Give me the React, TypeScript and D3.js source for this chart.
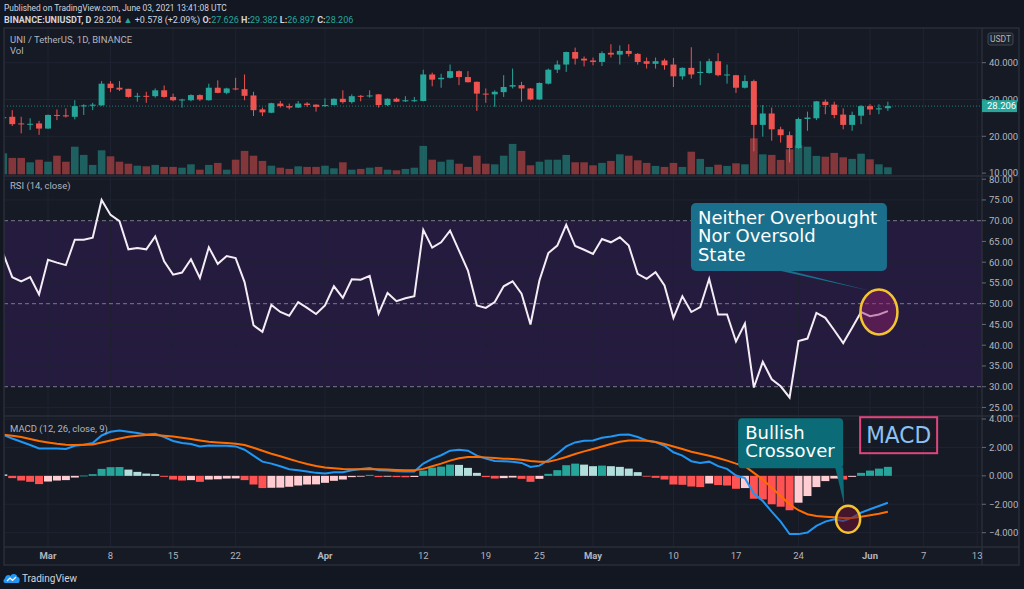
import React from "react";
import * as d3 from "d3";

// UNI / TetherUS, 1D, BINANCE — Feb 24 .. Jun 3 2021
const startDay = "2021-02-24";

const opens = [
  24.9, 25.3, 23.5, 23.2, 23.5, 22.1, 25.8, 25.7, 25.3, 28.2,
  28.3, 28.4, 34.3, 33.2, 32.9, 30.8, 31.0, 30.9, 32.5, 30.7,
  29.9, 29.8, 31.2, 29.8, 33.2, 31.8, 33.0, 32.8, 31.1, 27.3,
  26.4, 28.9, 28.2, 27.8, 28.9, 28.6, 28.2, 28.5, 30.2, 29.3,
  31.0, 30.9, 31.4, 28.5, 30.2, 29.5, 29.6, 29.6, 36.8, 35.5,
  35.9, 37.7, 36.1, 34.8, 31.6, 31.4, 32.0, 33.5, 33.9, 33.0,
  30.0, 34.3, 38.1, 39.5, 42.9, 41.1, 40.6, 40.2, 42.7, 42.2,
  43.2, 42.4, 40.4, 39.7, 40.6, 39.5, 36.3, 38.6, 37.2, 37.2,
  40.4, 36.6, 36.6, 33.2, 35.0, 23.1, 26.2, 21.9, 20.3, 16.8,
  24.7, 24.9, 29.4, 28.6, 25.9, 23.1, 25.6, 28.2, 27.3, 27.626,
];
const highs = [
  25.6, 27.1, 25.3, 24.9, 24.2, 25.9, 27.3, 27.6, 29.8, 28.7,
  29.1, 35.0, 35.0, 35.0, 32.9, 31.8, 32.1, 33.0, 33.8, 31.6,
  30.2, 31.4, 31.4, 34.3, 35.2, 33.2, 35.9, 36.8, 32.1, 27.8,
  29.1, 29.6, 28.9, 29.6, 29.3, 28.7, 30.3, 30.3, 32.5, 31.4,
  31.2, 32.5, 31.5, 30.3, 30.5, 30.9, 30.7, 38.1, 37.3, 37.0,
  39.5, 37.9, 37.7, 34.9, 33.0, 32.5, 36.6, 38.4, 34.8, 33.1,
  34.6, 38.4, 40.6, 43.0, 44.1, 41.7, 41.4, 43.1, 45.0, 44.7,
  45.0, 42.6, 41.4, 41.4, 41.1, 41.3, 38.7, 44.2, 40.4, 41.1,
  42.6, 39.5, 36.7, 36.6, 35.4, 28.5, 27.8, 22.6, 21.3, 25.1,
  26.7, 29.6, 30.0, 29.4, 27.6, 26.7, 28.5, 28.7, 28.7, 29.382,
];
const lows = [
  24.5, 22.8, 20.8, 21.7, 20.4, 22.0, 24.4, 25.1, 24.6, 25.8,
  27.1, 28.3, 32.0, 32.3, 30.5, 29.4, 29.1, 30.5, 30.5, 29.5,
  27.8, 29.5, 29.6, 29.7, 31.7, 31.4, 32.5, 29.8, 25.5, 25.5,
  26.3, 27.8, 27.3, 27.7, 28.0, 26.7, 28.0, 28.4, 28.9, 28.9,
  29.5, 30.5, 27.8, 28.2, 29.3, 29.3, 29.3, 29.5, 33.6, 33.2,
  35.7, 33.9, 34.6, 26.9, 29.1, 28.0, 30.7, 33.0, 29.4, 29.8,
  29.9, 34.1, 37.2, 37.5, 39.5, 39.0, 39.3, 39.1, 41.4, 39.5,
  41.7, 39.5, 38.4, 38.4, 38.1, 33.4, 35.4, 35.7, 33.9, 37.0,
  36.3, 34.3, 31.8, 33.0, 15.9, 19.9, 18.8, 18.3, 12.9, 16.5,
  21.5, 24.4, 26.0, 24.9, 21.9, 21.5, 23.3, 25.8, 26.0, 26.897,
];
const closes = [
  25.2, 23.3, 23.3, 23.4, 22.1, 25.8, 25.6, 25.4, 28.2, 28.4,
  28.6, 34.3, 33.1, 32.7, 30.7, 31.0, 30.8, 32.5, 30.7, 29.8,
  30.0, 31.2, 30.0, 33.2, 31.8, 33.0, 32.8, 31.0, 27.1, 26.5,
  29.0, 28.2, 27.8, 28.9, 28.5, 28.0, 28.5, 30.2, 29.3, 30.9,
  30.8, 31.1, 28.5, 30.2, 29.4, 29.8, 29.8, 36.8, 35.4, 35.9,
  37.7, 36.1, 34.7, 31.6, 31.4, 32.1, 33.4, 33.9, 33.0, 30.0,
  34.5, 38.1, 39.5, 42.9, 41.1, 40.6, 40.2, 42.6, 42.2, 43.2,
  42.4, 40.2, 39.7, 40.4, 39.3, 36.3, 38.6, 36.8, 37.5, 40.4,
  36.6, 36.8, 33.2, 35.0, 23.1, 26.2, 21.9, 20.3, 16.8, 24.7,
  25.1, 29.5, 28.5, 25.8, 23.1, 25.8, 28.2, 27.3, 27.6, 28.206,
];
// volume, millions
const volumes = [
  10.5, 8.2, 8.2, 6.0, 7.3, 6.3, 9.3, 6.3, 13.8, 9.7,
  4.7, 12.0, 9.0, 6.3, 5.3, 4.3, 4.0, 4.7, 3.7, 3.7,
  3.3, 5.0, 2.3, 4.7, 5.7, 2.3, 7.3, 11.7, 9.3, 6.7,
  4.3, 3.3, 2.7, 4.0, 3.7, 3.7, 4.3, 3.0, 6.0, 2.3,
  2.7, 3.3, 3.7, 2.3, 2.0, 2.7, 3.3, 14.2, 7.3, 6.3,
  7.3, 5.3, 3.7, 9.3, 5.3, 5.0, 9.3, 15.2, 11.7, 4.5,
  6.3, 7.3, 7.3, 9.7, 6.0, 6.0, 4.5, 5.7, 6.7, 10.0,
  9.3, 7.0, 5.7, 4.2, 3.7, 5.7, 3.7, 11.3, 7.7, 3.7,
  4.8, 4.2, 5.5, 5.0, 18.0, 10.0, 9.7, 7.2, 12.5, 14.5,
  13.8, 9.2, 8.8, 10.7, 8.5, 7.7, 10.3, 7.5, 5.0, 3.5,
];
const rsiValues = [
  62.0, 56.4, 55.4, 56.4, 52.2, 60.6, 59.9, 59.3, 65.4, 65.4,
  65.9, 75.0, 71.4, 69.9, 63.1, 63.4, 63.1, 66.2, 60.2, 57.0,
  57.5, 60.7, 56.2, 63.6, 59.6, 61.5, 61.0, 55.2, 44.8, 43.2,
  49.7, 48.0, 47.1, 50.4, 49.0, 47.5, 49.6, 54.2, 51.4, 55.9,
  55.8, 56.7, 47.6, 52.6, 50.6, 51.3, 51.8, 67.8, 63.5, 64.8,
  67.6, 62.8, 58.0, 49.6, 49.0, 50.4, 54.2, 55.4, 52.4, 45.0,
  55.6, 62.2, 64.0, 69.0, 63.9, 63.0, 62.0, 65.6, 64.8, 66.0,
  64.0, 57.2, 56.0, 57.6, 54.4, 46.6, 51.8, 48.0, 49.2, 56.0,
  47.4, 47.4, 40.9, 45.2, 29.8, 36.0, 31.8, 30.1, 27.4, 41.0,
  41.6, 47.8, 46.6, 43.6, 40.5, 44.2, 48.0, 47.0, 47.4, 48.2,
];
const macdValues = [
  2.89, 2.63, 2.40, 2.17, 1.93, 1.93, 1.93, 1.89, 2.12, 2.19,
  2.31, 2.84, 3.10, 3.19, 3.10, 3.01, 2.91, 2.96, 2.73, 2.45,
  2.31, 2.24, 2.07, 2.14, 2.12, 2.12, 2.07, 1.84, 1.42, 1.00,
  0.86, 0.68, 0.47, 0.40, 0.30, 0.21, 0.16, 0.26, 0.26, 0.40,
  0.49, 0.56, 0.40, 0.37, 0.33, 0.30, 0.30, 0.86, 1.19, 1.45,
  1.77, 1.84, 1.77, 1.42, 1.22, 1.04, 1.02, 1.00, 0.91, 0.63,
  0.72, 1.10, 1.56, 2.07, 2.35, 2.47, 2.49, 2.68, 2.77, 2.89,
  2.91, 2.73, 2.49, 2.38, 2.12, 1.66, 1.42, 1.03, 0.91, 1.00,
  0.68, 0.49, 0.02, -0.16, -1.24, -1.77, -2.52, -3.22, -4.10, -4.10,
  -3.99, -3.52, -3.22, -3.05, -3.17, -2.94, -2.59, -2.35, -2.12, -1.89,
];
const signalValues = [
  2.89, 2.82, 2.73, 2.59, 2.45, 2.35, 2.26, 2.19, 2.17, 2.19,
  2.21, 2.35, 2.49, 2.63, 2.75, 2.82, 2.87, 2.87, 2.82, 2.77,
  2.68, 2.59, 2.49, 2.40, 2.35, 2.31, 2.26, 2.17, 1.98, 1.77,
  1.56, 1.38, 1.19, 1.00, 0.84, 0.70, 0.58, 0.54, 0.49, 0.47,
  0.47, 0.47, 0.47, 0.44, 0.42, 0.40, 0.40, 0.49, 0.68, 0.86,
  1.07, 1.24, 1.33, 1.33, 1.30, 1.25, 1.21, 1.19, 1.14, 1.05,
  1.00, 1.00, 1.14, 1.33, 1.54, 1.72, 1.89, 2.07, 2.24, 2.40,
  2.49, 2.49, 2.47, 2.38, 2.24, 2.07, 1.89, 1.70, 1.56, 1.42,
  1.26, 1.07, 0.86, 0.68, 0.21, -0.26, -0.84, -1.42, -2.00, -2.42,
  -2.70, -2.82, -2.87, -2.91, -2.96, -2.96, -2.87, -2.77, -2.66, -2.52,
];
const histValues = [
  0.10, -0.16, -0.33, -0.42, -0.58, -0.40, -0.33, -0.30, -0.12, 0.02,
  0.12, 0.49, 0.61, 0.62, 0.44, 0.28, 0.16, 0.12, -0.07, -0.26,
  -0.33, -0.30, -0.42, -0.26, -0.24, -0.19, -0.18, -0.30, -0.61, -0.86,
  -0.84, -0.83, -0.77, -0.68, -0.61, -0.60, -0.49, -0.35, -0.26, -0.09,
  -0.02, 0.07, -0.09, -0.05, -0.09, -0.10, -0.08, 0.37, 0.58, 0.65,
  0.79, 0.77, 0.56, 0.21, -0.09, -0.19, -0.16, -0.12, -0.21, -0.42,
  -0.21, 0.14, 0.40, 0.75, 0.86, 0.79, 0.68, 0.72, 0.68, 0.63,
  0.51, 0.26, -0.02, -0.14, -0.26, -0.61, -0.63, -0.75, -0.79, -0.54,
  -0.65, -0.68, -0.91, -0.86, -1.61, -1.66, -2.00, -2.17, -2.42, -1.89,
  -1.42, -0.79, -0.37, -0.19, -0.26, -0.07, 0.21, 0.37, 0.51, 0.63,
];

const tickDays = [
  "2021-03-01", "2021-03-08", "2021-03-15", "2021-03-22", "2021-04-01",
  "2021-04-12", "2021-04-19", "2021-04-25", "2021-05-01", "2021-05-10",
  "2021-05-17", "2021-05-24", "2021-06-01", "2021-06-07", "2021-06-13",
];
const tickLabels = ["Mar", "8", "15", "22", "Apr", "12", "19", "25", "May", "10", "17", "24", "Jun", "7", "13"];

const priceTicks = [40, 30, 20, 10];
const rsiTicks = [80, 75, 70, 65, 60, 55, 50, 45, 40, 35, 30, 25];
const macdTicks = [4, 2, 0, -2, -4];
const lastPrice = 28.206;

// annotation anchors (date, value)
const rsiNote = { day: "2021-06-02", value: 48, lines: ["Neither Overbought", "Nor Oversold", "State"] };
const crossNote = { day: "2021-05-30", value: -3.05, lines: ["Bullish", "Crossover"] };

const W = 1024;
const H = 589;
const L = 4;
const R = 982;
const FR = 1019;
const TOP = 28;
const PRICE_B = 176;
const RSI_B = 416;
const MACD_B = 547;
const AXIS_B = 565;

const UP = "#26a69a";
const DOWN = "#ef5350";
const TXT = "#b2b5be";
const GRID = "#1f2330";
const BORDER = "#2a2e39";
const FONT = "Roboto, 'Noto Sans', sans-serif";
const NOTE_FONT = "'DejaVu Sans', sans-serif";

const parse = d3.utcParse("%Y-%m-%d");

export default function App() {
  const start = parse(startDay)!;
  const days = opens.map((_, i) => d3.utcDay.offset(start, i));

  const x = d3.scaleUtc()
    .domain([parse("2021-03-01")!, parse("2021-06-01")!])
    .range([48, 870]);
  const yPrice = d3.scaleLinear().domain([20, 40]).range([136.3, 62.7]);
  const yVol = d3.scaleLinear().domain([0, 30]).range([174.3, 114.3]);
  const yRsi = d3.scaleLinear().domain([30, 70]).range([386.7, 220.7]);
  const yMacd = d3.scaleLinear().domain([-4, 4]).range([532.7, 419]);

  const fmt3 = d3.format(".3f");
  const fmt2 = d3.format(".2f");

  const rsiLine = d3.line<number>().x((_, i) => x(days[i])).y(v => yRsi(v));
  const macdLine = d3.line<number>().x((_, i) => x(days[i])).y(v => yMacd(v));

  const histColor = (i: number) => {
    const v = histValues[i];
    const prev = i > 0 ? histValues[i - 1] : v;
    if (v >= 0) return prev < v ? "#26a69a" : "#b2dfdb";
    return prev < v ? "#ffcdd2" : "#ff5252";
  };

  // annotation geometry
  const rx = x(parse(rsiNote.day)!);
  const ry = yRsi(rsiNote.value);
  const cx = x(parse(crossNote.day)!) - 4;
  const cy = yMacd(crossNote.value);

  return (
    <svg width={W} height={H} style={{ position: "absolute", left: 0, top: 0, display: "block" }} fontFamily={FONT}>
      <defs>
        <clipPath id="plot">
          <rect x={L} y={TOP} width={R - L} height={MACD_B - TOP} />
        </clipPath>
      </defs>
      <rect width={W} height={H} fill="#131722" />
      <rect x={L} y={TOP} width={FR - L} height={AXIS_B - TOP} fill="#161a25" />

      {/* header */}
      <text x={4} y={11} fontSize={8.4} fill="#d1d4dc">Published on TradingView.com, June 03, 2021 13:41:08 UTC</text>
      <text x={4} y={23} fontSize={9} fill="#d1d4dc">
        <tspan fontWeight={700}>BINANCE:UNIUSDT, D</tspan>
        <tspan> 28.204 </tspan>
        <tspan fill={UP}>▲</tspan>
        <tspan> +0.578 (+2.09%) </tspan>
        <tspan fontWeight={700}>O:</tspan><tspan fill={UP}>27.626</tspan>
        <tspan fontWeight={700}> H:</tspan><tspan fill={UP}>29.382</tspan>
        <tspan fontWeight={700}> L:</tspan><tspan fill={UP}>26.897</tspan>
        <tspan fontWeight={700}> C:</tspan><tspan fill={UP}>28.206</tspan>
      </text>

      {/* RSI band */}
      <rect x={L} y={yRsi(70)} width={R - L} height={yRsi(30) - yRsi(70)} fill="#241b3f" />

      {/* grid */}
      <g stroke={GRID} strokeWidth={1}>
        {tickDays.map(d => (
          <line key={d} x1={x(parse(d)!)} x2={x(parse(d)!)} y1={TOP} y2={MACD_B} />
        ))}
        {priceTicks.filter(v => v > 10).map(v => (
          <line key={"p" + v} x1={L} x2={R} y1={yPrice(v)} y2={yPrice(v)} />
        ))}
        {rsiTicks.filter(v => v !== 70 && v !== 50 && v !== 30).map(v => (
          <line key={"r" + v} x1={L} x2={R} y1={yRsi(v)} y2={yRsi(v)} />
        ))}
        {macdTicks.map(v => (
          <line key={"m" + v} x1={L} x2={R} y1={yMacd(v)} y2={yMacd(v)} />
        ))}
      </g>

      <g clipPath="url(#plot)">
        {/* volume */}
        {volumes.map((v, i) => (
          <rect key={"v" + i} x={x(days[i]) - 3.8} width={7.6} y={yVol(v)} height={yVol(0) - yVol(v)}
            fill={closes[i] >= opens[i] ? UP : DOWN} opacity={0.5} />
        ))}
        {/* last price line */}
        <line x1={L} x2={R} y1={yPrice(lastPrice)} y2={yPrice(lastPrice)} stroke={UP} strokeDasharray="1 2" opacity={0.7} />
        {/* candles */}
        {opens.map((o, i) => {
          const c = closes[i];
          const col = c >= o ? UP : DOWN;
          const cxp = x(days[i]);
          const y0 = yPrice(Math.max(o, c));
          const y1 = yPrice(Math.min(o, c));
          return (
            <g key={"c" + i}>
              <line x1={cxp} x2={cxp} y1={yPrice(highs[i])} y2={yPrice(lows[i])} stroke={col} strokeWidth={1} />
              <rect x={cxp - 3} width={6} y={y0} height={Math.max(1, y1 - y0)} fill={col} />
            </g>
          );
        })}

        {/* RSI */}
        <g stroke="#787b86" strokeDasharray="4 3" strokeWidth={1}>
          {[70, 50, 30].map(v => <line key={v} x1={L} x2={R} y1={yRsi(v)} y2={yRsi(v)} />)}
        </g>
        <path d={rsiLine(rsiValues) || undefined} fill="none" stroke="#f5ecf5" strokeWidth={2} />

        {/* MACD histogram */}
        {histValues.map((v, i) => (
          <rect key={"h" + i} x={x(days[i]) - 4} width={8}
            y={Math.min(yMacd(0), yMacd(v))} height={Math.max(0.8, Math.abs(yMacd(v) - yMacd(0)))}
            fill={histColor(i)} />
        ))}
        <path d={macdLine(macdValues) || undefined} fill="none" stroke="#2196f3" strokeWidth={2} />
        <path d={macdLine(signalValues) || undefined} fill="none" stroke="#ff6d00" strokeWidth={2} />
      </g>

      {/* panel borders */}
      <g stroke={BORDER} strokeWidth={1.5} fill="none">
        <rect x={L} y={TOP} width={FR - L} height={AXIS_B - TOP} />
        <line x1={L} x2={FR} y1={PRICE_B} y2={PRICE_B} />
        <line x1={L} x2={FR} y1={RSI_B} y2={RSI_B} />
        <line x1={L} x2={FR} y1={MACD_B} y2={MACD_B} />
        <line x1={R} x2={R} y1={TOP} y2={AXIS_B} />
      </g>

      {/* legends */}
      <text x={10} y={43} fontSize={9.5} fill={TXT}>UNI / TetherUS, 1D, BINANCE</text>
      <text x={10} y={54} fontSize={9.5} fill={TXT}>Vol</text>
      <text x={10} y={189} fontSize={9.5} fill={TXT}>RSI (14, close)</text>
      <text x={10} y={432} fontSize={9.5} fill={TXT}>MACD (12, 26, close, 9)</text>

      {/* right axis */}
      <g fontSize={9.5} fill={TXT}>
        {priceTicks.map(v => (
          <g key={"pt" + v}>
            <line x1={R} x2={R + 4} y1={yPrice(v)} y2={yPrice(v)} stroke={TXT} opacity={0.5} />
            <text x={989} y={yPrice(v)} dy="0.35em">{fmt3(v)}</text>
          </g>
        ))}
        {rsiTicks.map(v => (
          <g key={"rt" + v}>
            <line x1={R} x2={R + 4} y1={yRsi(v)} y2={yRsi(v)} stroke={TXT} opacity={0.5} />
            <text x={989} y={yRsi(v)} dy="0.35em">{fmt2(v)}</text>
          </g>
        ))}
        {macdTicks.map(v => (
          <g key={"mt" + v}>
            <line x1={R} x2={R + 4} y1={yMacd(v)} y2={yMacd(v)} stroke={TXT} opacity={0.5} />
            <text x={989} y={yMacd(v)} dy="0.35em">{fmt3(v)}</text>
          </g>
        ))}
      </g>
      <rect x={988} y={33} width={25} height={12} rx={2} fill="#1e222d" stroke="#434651" />
      <text x={1000.5} y={42} fontSize={8.5} fill={TXT} textAnchor="middle">USDT</text>
      <rect x={R} y={yPrice(lastPrice) - 6} width={35} height={12} fill={UP} />
      <text x={987} y={yPrice(lastPrice)} dy="0.35em" fontSize={9.5} fill="#ffffff">{fmt3(lastPrice)}</text>

      {/* time axis */}
      <g fontSize={9.5} fill={TXT} textAnchor="middle">
        {tickDays.map((d, i) => (
          <text key={d} x={x(parse(d)!)} y={559} fontWeight={/^[A-Z]/.test(tickLabels[i]) ? 700 : 400}>{tickLabels[i]}</text>
        ))}
      </g>

      {/* RSI annotation */}
      <polygon points={`${rx - 98},${ry - 41} ${rx - 88},${ry - 41} ${rx - 8},${ry - 21}`} fill="#1a6f8c" />
      <rect x={rx - 188} y={ry - 109} width={196} height={68} rx={5} fill="#1a6f8c" />
      {rsiNote.lines.map((t, i) => (
        <text key={t} x={rx - 181} y={ry - 88 + i * 18.4} fontSize={18} fill="#ffffff" fontFamily={NOTE_FONT}>{t}</text>
      ))}
      <ellipse cx={rx} cy={ry} rx={18.5} ry={22.5} fill="rgba(150,30,110,0.45)" stroke="#f4c430" strokeWidth={2.5} />

      {/* Crossover annotation */}
      <polygon points={`${cx - 13},${cy - 52} ${cx - 5},${cy - 52} ${cx - 4},${cy - 15}`} fill="#0b6c78" />
      <rect x={cx - 110} y={cy - 101} width={105} height={50} rx={4} fill="#0b6c78" />
      {crossNote.lines.map((t, i) => (
        <text key={t} x={cx - 103} y={cy - 80 + i * 17.4} fontSize={18} fill="#ffffff" fontFamily={NOTE_FONT}>{t}</text>
      ))}
      <ellipse cx={cx} cy={cy} rx={12} ry={13.5} fill="rgba(110,20,50,0.55)" stroke="#f4c430" strokeWidth={2.5} />

      {/* MACD label */}
      <rect x={cx + 12} y={cy - 102} width={77} height={36} fill="none" stroke="#e0457b" strokeWidth={2} />
      <text x={cx + 50.5} y={cy - 76} fontSize={23} fill="#8ec1ee" textAnchor="middle" fontFamily={NOTE_FONT}
        textLength={65} lengthAdjust="spacingAndGlyphs">MACD</text>

      {/* footer */}
      <g transform="translate(4,572)">
        <path d="M1,11 C-1,11 -1,7 1,6.5 C1,3 5,2 6.5,4 C8,1 13,1.5 13.5,5 C16,5 16.5,9 14.5,11 Z" fill="#2196f3" />
        <path d="M3,9 L6,6 L8.5,8.5 L12,5" fill="none" stroke="#ffffff" strokeWidth={1.2} />
      </g>
      <text x={22} y={582} fontSize={10} fill="#d1d4dc">TradingView</text>
    </svg>
  );
}
